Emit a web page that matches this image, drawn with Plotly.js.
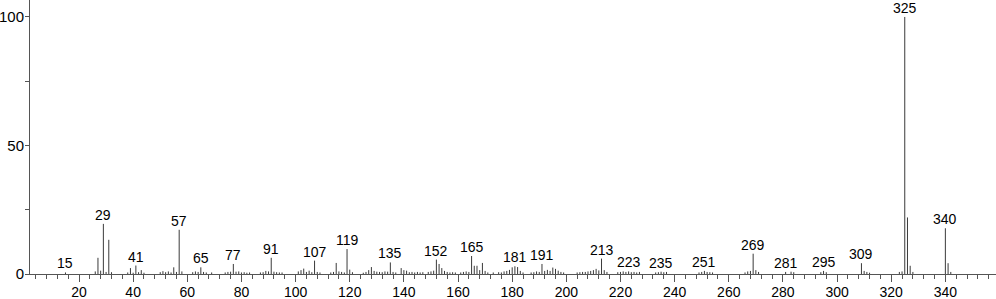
<!DOCTYPE html>
<html>
<head>
<meta charset="utf-8">
<script src="https://cdn.plot.ly/plotly-3.0.1.min.js"></script>
<style>html,body{margin:0;padding:0;background:#fff;}#chart{width:996px;height:299px;}</style>
</head>
<body>
<div id="chart"></div>
<script>
// m/z values and relative intensities (%)
const mz = [15,26,27,28,29,30,31,32,38,39,40,41,42,43,44,50,51,52,53,54,55,56,57,58,
  62,63,64,65,66,67,69,74,75,76,77,78,79,80,81,82,83,87,88,89,90,91,92,93,94,95,
  101,102,103,104,105,106,107,108,109,113,114,115,116,117,118,119,120,121,
  125,126,127,128,129,130,131,132,133,134,135,136,137,139,140,141,142,143,144,145,146,147,
  149,150,151,152,153,154,155,156,157,158,159,161,162,163,164,165,166,167,168,169,170,171,
  173,175,176,177,178,179,180,181,182,183,184,187,188,189,190,191,192,193,194,195,196,197,198,199,
  204,205,206,207,208,209,210,211,212,213,214,215,219,220,221,222,223,224,225,226,227,
  233,234,235,236,237,249,250,251,252,253,254,266,267,268,269,270,271,
  281,283,284,294,295,296,309,310,311,312,323,324,325,326,327,328,340,341,342];
const intensity = [0.6,1.0,6.3,1.3,19.5,0.8,13.3,0.7,0.6,2.3,0.5,3.3,0.7,1.5,0.5,0.7,1.1,0.7,1.0,0.6,2.6,0.8,17.2,1.0,
  0.7,1.0,0.8,2.6,0.8,0.6,0.6,0.6,0.8,0.9,3.9,0.9,1.0,0.6,0.7,0.5,0.6,0.6,0.7,1.2,1.0,6.3,0.9,0.7,0.6,0.6,
  1.0,1.5,2.1,0.8,1.3,0.7,5.2,0.8,0.6,0.6,0.8,4.3,1.0,0.8,0.6,9.7,1.7,0.7,
  0.5,0.8,1.5,2.7,1.2,0.9,0.8,0.7,1.0,0.9,4.5,0.8,0.6,2.3,1.5,1.3,0.7,0.8,0.6,0.8,0.6,0.7,
  0.8,1.0,1.3,5.6,3.9,2.3,1.2,0.8,0.6,0.7,0.6,0.6,0.8,1.0,0.8,7.0,3.2,3.2,1.5,4.3,1.2,0.6,
  0.6,0.7,0.6,1.0,1.2,1.6,2.6,3.0,2.7,1.2,0.6,0.6,0.7,1.0,0.8,3.9,1.2,1.6,1.2,2.5,2.0,1.3,0.8,0.6,
  0.6,0.7,0.8,0.8,1.0,1.2,1.5,2.0,1.4,6.0,1.5,0.8,0.7,0.8,1.0,0.8,1.0,0.7,0.8,0.6,0.8,
  0.6,0.7,0.9,0.7,0.8,0.6,0.8,1.2,0.8,0.7,0.6,0.6,1.0,1.2,7.9,1.5,0.8,
  0.8,0.9,0.7,0.7,1.2,0.7,4.2,1.2,0.8,0.5,0.8,1.0,100,22,3.2,0.8,17.8,4.2,0.8];
// labelled peaks
const labelledPeaks = [15,29,41,57,65,77,91,107,119,135,152,165,181,191,213,223,235,251,269,281,295,309,325,340];
const xTickValues = [20,40,60,80,100,120,140,160,180,200,220,240,260,280,300,320,340];
const yTickValues = [0,50,100];

const font = 'Liberation Sans, Arial, sans-serif';
const annotations = labelledPeaks.map(m => {
  const i = mz.indexOf(m);
  return {x: m, y: i >= 0 ? intensity[i] : 0, text: String(m), showarrow: false,
    xanchor: 'center', yanchor: 'bottom', yshift: -1,
    font: {family: font, size: 14, color: '#000'}};
});

// stick spectrum: vertical segments built from the arrays
const sx = [], sy = [];
mz.forEach((m, i) => { sx.push(m, m, null); sy.push(0, intensity[i], null); });
const trace = {
  type: 'scatter', mode: 'lines', x: sx, y: sy,
  line: {color: '#3a3a3a', width: 1}, hoverinfo: 'skip', connectgaps: false
};

const layout = {
  width: 996, height: 299,
  margin: {l: 30, r: 0, t: 0, b: 25, pad: 0},
  paper_bgcolor: '#fff', plot_bgcolor: '#fff',
  showlegend: false,
  font: {family: font, size: 14, color: '#000'},
  xaxis: {
    range: [1.9, 358.7], tickvals: xTickValues, ticktext: xTickValues.map(String),
    ticks: 'outside', ticklen: 7, tickwidth: 1, tickcolor: '#555', ticklabelstandoff: -2,
    showline: true, linecolor: '#555', linewidth: 1, showgrid: false, zeroline: false,
    minor: {dtick: 4, tick0: 0, ticks: 'outside', ticklen: 4, tickcolor: '#555', showgrid: false},
    tickfont: {family: font, size: 14, color: '#000'}
  },
  yaxis: {
    range: [0, 106.6], tickvals: yTickValues, ticktext: yTickValues.map(String),
    ticks: 'outside', ticklen: 4, tickwidth: 1, tickcolor: '#555', ticklabelstandoff: -2,
    showline: true, linecolor: '#555', linewidth: 1, showgrid: false, zeroline: false,
    minor: {dtick: 25, tick0: 0, ticks: 'outside', ticklen: 4, tickcolor: '#555', showgrid: false},
    tickfont: {family: font, size: 15, color: '#000'}
  },
  annotations: annotations
};

Plotly.newPlot('chart', [trace], layout, {staticPlot: true, displayModeBar: false});
</script>
</body>
</html>
